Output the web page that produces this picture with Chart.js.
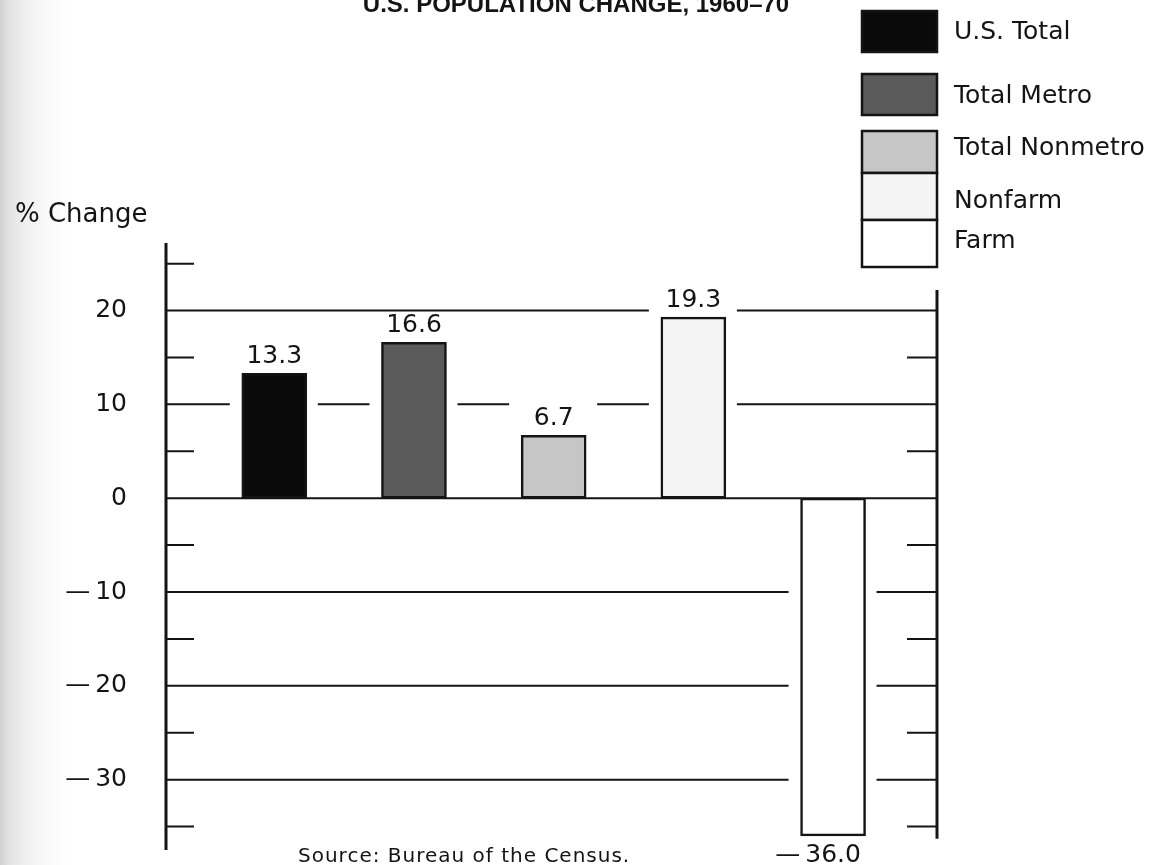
<!DOCTYPE html>
<html>
<head>
<meta charset="utf-8">
<title>U.S. Population Change, 1960-70</title>
<script src="https://cdn.jsdelivr.net/npm/chart.js@4.4.1/dist/chart.umd.min.js"></script>
<style>
body{margin:0;background:linear-gradient(90deg,#d0d0d0 0px,#e3e3e3 9px,#f0f0f0 26px,#fafafa 48px,#fff 68px);}
canvas{display:block}
</style>
</head>
<body>
<canvas id="myChart" width="1165" height="865"></canvas>
<script>
// numbers as printed on the chart
let categories=["U.S. Total","Total Metro","Total Nonmetro","Nonfarm","Farm"]
let change=[13.3,16.6,6.7,19.3,-36.0]
let fills=["#0a0a0a","#5a5a5a","#c6c6c6","#f4f4f4","#ffffff"]
let majorTicks=[20,10,0,-10,-20,-30]
let minorTicks=[25,15,5,-5,-15,-25,-35]
let title="U.S. POPULATION CHANGE, 1960\u201370"
let yTitle="% Change"
let source="Source: Bureau of the Census."

const ink="#141414"
const dash="\u2014\u2009"

function fmt(v,d)
{
    let s=Math.abs(v).toFixed(d)
    return v<0 ? dash+s : s
}

const paper={
    id:"paper",
    beforeDatasetsDraw(chart){
        const ctx=chart.ctx
        const y=chart.scales.y
        const a=chart.chartArea
        const bars=chart.getDatasetMeta(0).data
        ctx.save()
        ctx.strokeStyle=ink
        ctx.lineWidth=2
        // long rules, left open where a bar or its number is in the way
        majorTicks.forEach(v=>{
            let py=y.getPixelForValue(v)
            let cuts=[]
            if(v!==0){
                bars.forEach(b=>{
                    let lo,hi
                    if(b.y<b.base){ lo=b.y-31.5; hi=b.base }
                    else { lo=b.base; hi=b.y+31.5 }
                    if(py>lo && py<hi) cuts.push([b.x-b.width/2-12,b.x+b.width/2+11])
                })
            }
            cuts.sort((p,q)=>p[0]-q[0])
            let x0=a.left
            ctx.beginPath()
            cuts.forEach(c=>{
                ctx.moveTo(x0,py); ctx.lineTo(c[0],py)
                x0=c[1]
            })
            ctx.moveTo(x0,py); ctx.lineTo(a.right,py)
            ctx.stroke()
        })
        // short ticks both sides
        minorTicks.forEach(v=>{
            let py=y.getPixelForValue(v)
            ctx.beginPath()
            ctx.moveTo(a.left,py); ctx.lineTo(a.left+28,py)
            ctx.moveTo(a.right-30,py); ctx.lineTo(a.right,py)
            ctx.stroke()
        })
        // the two upright axes
        ctx.lineWidth=3
        ctx.beginPath()
        ctx.moveTo(a.left,a.top); ctx.lineTo(a.left,a.bottom)
        ctx.moveTo(a.right,y.getPixelForValue(22.2)); ctx.lineTo(a.right,y.getPixelForValue(-36.3))
        ctx.stroke()
        ctx.restore()
    },
    afterDatasetsDraw(chart){
        const ctx=chart.ctx
        const bars=chart.getDatasetMeta(0).data
        ctx.save()
        ctx.fillStyle=ink
        ctx.font="25px 'DejaVu Sans'"
        ctx.textBaseline="alphabetic"
        bars.forEach((b,i)=>{
            let v=change[i]
            let digits=Math.abs(v).toFixed(1)
            if(v>=0){
                ctx.textAlign="center"
                ctx.fillText(fmt(v,1),b.x,b.y-10)
            } else {
                // figures centred under the bar, the dash hangs out to the left
                let w=ctx.measureText(digits).width
                ctx.textAlign="right"
                ctx.fillText(fmt(v,1),b.x+w/2,b.y+26)
            }
        })
        ctx.restore()
    },
    afterDraw(chart){
        const ctx=chart.ctx
        ctx.save()
        ctx.fillStyle=ink
        ctx.textBaseline="alphabetic"
        ctx.font="bold 24px 'Liberation Sans'"
        ctx.textAlign="center"
        ctx.fillText(title,576,12)
        ctx.textAlign="left"
        ctx.font="26px 'DejaVu Sans'"
        ctx.fillText(yTitle,15,222)
        ctx.font="20px 'DejaVu Sans'"
        ctx.letterSpacing="1px"
        ctx.fillText(source,298,862)
        ctx.letterSpacing="0px"
        // key, top right
        let rows=[[11,41],[74,41],[131,42],[173,47],[220,47]]
        let textY=[32,96,148,201,241]
        ctx.lineWidth=2.5
        ctx.strokeStyle=ink
        ctx.font="25px 'DejaVu Sans'"
        ctx.textBaseline="middle"
        categories.forEach((c,i)=>{
            ctx.fillStyle=fills[i]
            ctx.fillRect(862,rows[i][0],75,rows[i][1])
            ctx.strokeRect(862,rows[i][0],75,rows[i][1])
            ctx.fillStyle=ink
            ctx.fillText(c,954,textY[i])
        })
        ctx.restore()
    }
}

const ctx=document.getElementById("myChart")
new Chart(ctx,{
    type:"bar",
    data:{
        datasets:[{
            label:yTitle,
            data:change.map((v,i)=>({x:i,y:v})),
            backgroundColor:fills,
            borderColor:ink,
            borderWidth:2.5,
            borderSkipped:false,
            barThickness:65
        }]
    },
    options:{
        responsive:false,
        animation:false,
        devicePixelRatio:1,
        layout:{padding:{top:243,bottom:15,left:0,right:228}},
        plugins:{legend:{display:false},tooltip:{enabled:false}},
        scales:{
            x:{
                type:"linear",
                min:-0.775,
                max:4.744,
                offset:false,
                display:false
            },
            y:{
                min:-37.5,
                max:27.2,
                grid:{display:false,drawTicks:false},
                border:{display:false},
                afterFit:(s)=>{ s.width=166; s.paddingTop=0; s.paddingBottom=0 },
                ticks:{
                    stepSize:5,
                    padding:39,
                    color:ink,
                    font:{family:"DejaVu Sans",size:25},
                    callback:(v)=>majorTicks.includes(v) ? fmt(v,0) : ""
                }
            }
        }
    },
    plugins:[paper]
})
</script>
</body>
</html>
